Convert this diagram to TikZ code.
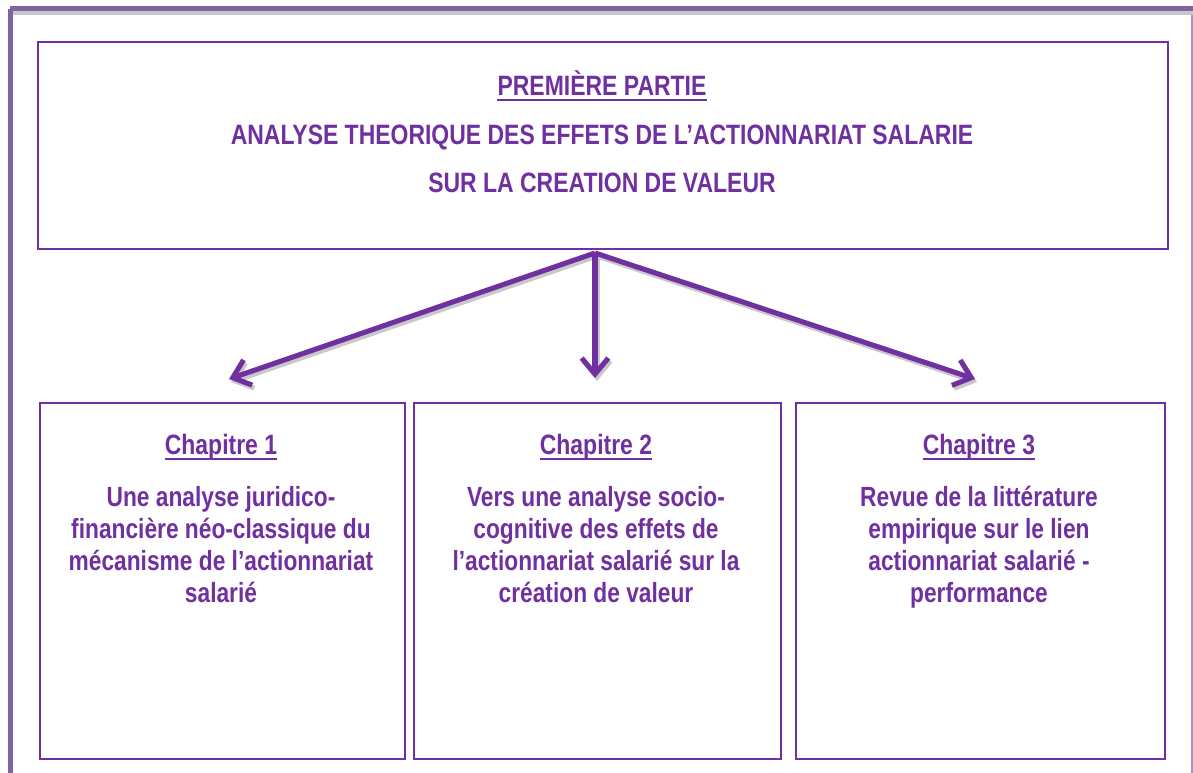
\documentclass[tikz,border=0pt]{standalone}
\usepackage{fontspec}
\setmainfont{Liberation Sans}[FakeStretch=0.82]
\usetikzlibrary{arrows.meta}
\definecolor{pur}{HTML}{7030A0}
\definecolor{frame}{HTML}{8064A2}
\definecolor{shad}{HTML}{C8C8C8}
\tikzset{
  box/.style={draw=pur, line width=1.4pt, fill=white},
  txt/.style={text=pur, inner sep=0pt, font=\bfseries},
  big/.style={txt, font=\bfseries\fontsize{21pt}{36pt}\selectfont},
  body/.style={txt, align=center, font=\bfseries\fontsize{20.8pt}{23.8pt}\selectfont},
  ul/.style={pur, line width=1.6pt},
  arr/.style={pur, line width=3.8pt, -{Straight Barb[length=12pt,width=20pt]}},
  arrsh/.style={shad, line width=3.8pt, -{Straight Barb[length=12pt,width=20pt]}},
}
\begin{document}
\begin{tikzpicture}[x=0.75pt,y=-0.75pt]
\useasboundingbox (0,0) rectangle (1193,773);
\fill[white] (0,0) rectangle (1193,773);
% outer frame
\fill[shad] (13,10.5) rectangle (1193,15);
\fill[frame] (10,6) rectangle (1193,10.7);
\fill[frame] (8,9) rectangle (12.7,773);
\fill[frame!70] (1191,15) rectangle (1193,773);
% top box
\node[box, minimum width=1130*0.75pt, minimum height=207*0.75pt, anchor=north west, inner sep=0pt] (top) at (37,41) {};
\node[big, anchor=base] (h0) at (602,96) {PREMIÈRE PARTIE};
\draw[ul] ([yshift=-3pt]h0.base west) -- ([yshift=-3pt]h0.base east);
\node[big, anchor=base] (t1) at (602,145) {ANALYSE THEORIQUE DES EFFETS DE L’ACTIONNARIAT SALARIE};
\node[big, anchor=base] (t2) at (602,193) {SUR LA CREATION DE VALEUR};
% chapter boxes
\node[box, minimum width=365*0.75pt, minimum height=356*0.75pt, anchor=north west, inner sep=0pt] (b1) at (39,402) {};
\node[box, minimum width=367*0.75pt, minimum height=356*0.75pt, anchor=north west, inner sep=0pt] (b2) at (413,402) {};
\node[box, minimum width=369*0.75pt, minimum height=356*0.75pt, anchor=north west, inner sep=0pt] (b3) at (795,402) {};
\node[big, anchor=base] (c1) at (221,455) {Chapitre 1};
\node[big, anchor=base] (c2) at (596,455) {Chapitre 2};
\node[big, anchor=base] (c3) at (979,455) {Chapitre 3};
\foreach \c in {c1,c2,c3}{
  \draw[ul] ([yshift=-3pt]\c.base west) -- ([yshift=-3pt]\c.base east);
}
\node[body, anchor=base] (d1) at (221,602) {Une analyse juridico-\\financière néo-classique du\\mécanisme de l’actionnariat\\salarié};
\node[body, anchor=base] (d2) at (596,602) {Vers une analyse socio-\\cognitive des effets de\\l’actionnariat salarié sur la\\création de valeur};
\node[body, anchor=base] (d3) at (979,602) {Revue de la littérature\\empirique sur le lien\\actionnariat salarié -\\performance};
% arrows
\coordinate (src) at (595,253);
\coordinate (e1) at (229,379);
\coordinate (e2) at (595,378);
\coordinate (e3) at (975,379);
\foreach \e in {e1,e2,e3}{
  \draw[arrsh] ([shift={(2,3)}]src) -- ([shift={(2,3)}]\e);
}
\foreach \e in {e1,e2,e3}{
  \draw[arr] (src) -- (\e);
}
\end{tikzpicture}
\end{document}
